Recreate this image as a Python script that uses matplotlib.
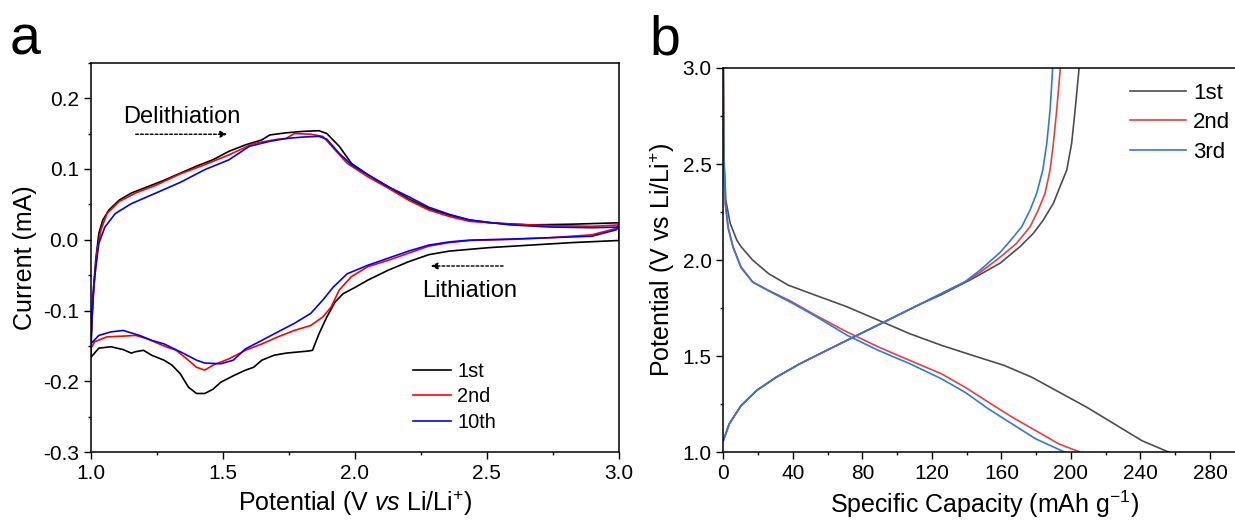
import numpy as np
import matplotlib
matplotlib.use("Agg")
import matplotlib.pyplot as plt
from matplotlib.ticker import MultipleLocator, FormatStrFormatter

plt.rcParams['font.family'] = ['Liberation Sans', 'DejaVu Sans']
plt.rcParams['mathtext.fontset'] = 'custom'
plt.rcParams['mathtext.rm'] = 'Liberation Sans'
plt.rcParams['mathtext.it'] = 'Liberation Sans:italic'
plt.rcParams['axes.unicode_minus'] = False

# ---- panel a: CV curves (potential V, current mA), anodic then cathodic sweep
cv_labels = ["1st", "2nd", "10th"]
cv_colors = ["#000000", "#ff0000", "#0000ff"]

v_1st = [1.000, 1.008, 1.019, 1.031, 1.046, 1.069, 1.108, 1.154, 1.216, 1.278, 1.339, 1.401,
         1.463, 1.524, 1.586, 1.648, 1.678, 1.740, 1.802, 1.864, 1.894, 1.941, 1.987, 2.049,
         2.126, 2.203, 2.280, 2.357, 2.434, 2.511, 2.665, 2.820, 3.000,
         3.000, 2.974, 2.820, 2.665, 2.511, 2.357, 2.280, 2.203, 2.126, 2.049, 2.002, 1.956,
         1.925, 1.894, 1.864, 1.840, 1.825, 1.740, 1.694, 1.648, 1.617, 1.586, 1.540, 1.493,
         1.463, 1.432, 1.401, 1.370, 1.339, 1.308, 1.278, 1.231, 1.200, 1.170, 1.154, 1.123,
         1.077, 1.031, 1.003]
i_1st = [-0.168, -0.085, -0.029, 0.009, 0.028, 0.042, 0.056, 0.066, 0.075, 0.084, 0.094, 0.104,
         0.113, 0.125, 0.134, 0.141, 0.148, 0.151, 0.153, 0.154, 0.150, 0.132, 0.108, 0.092,
         0.075, 0.058, 0.044, 0.035, 0.028, 0.024, 0.021, 0.022, 0.024,
         -0.001, -0.0014, -0.004, -0.0075, -0.011, -0.016, -0.021, -0.031, -0.043, -0.057, -0.067, -0.076,
         -0.088, -0.109, -0.133, -0.156, -0.157, -0.160, -0.163, -0.170, -0.180, -0.184, -0.192, -0.201,
         -0.211, -0.217, -0.217, -0.208, -0.189, -0.177, -0.170, -0.163, -0.156, -0.158, -0.160, -0.155,
         -0.151, -0.153, -0.165]

v_2nd = [1.000, 1.008, 1.023, 1.039, 1.062, 1.108, 1.170, 1.247, 1.339, 1.432, 1.524, 1.617,
         1.709, 1.740, 1.771, 1.833, 1.879, 1.925, 1.971, 2.049, 2.126, 2.203, 2.280, 2.357,
         2.434, 2.588, 2.742, 2.897, 3.000,
         2.989, 2.897, 2.742, 2.588, 2.434, 2.357, 2.280, 2.203, 2.126, 2.049, 1.987, 1.941,
         1.910, 1.879, 1.833, 1.771, 1.709, 1.648, 1.586, 1.524, 1.463, 1.432, 1.401, 1.370,
         1.324, 1.278, 1.216, 1.170, 1.123, 1.062, 1.015, 1.000]
i_2nd = [-0.151, -0.090, -0.019, 0.014, 0.037, 0.054, 0.066, 0.077, 0.093, 0.106, 0.120, 0.136,
         0.142, 0.143, 0.150, 0.149, 0.146, 0.127, 0.108, 0.089, 0.073, 0.056, 0.042, 0.033,
         0.026, 0.022, 0.020, 0.019, 0.021,
         0.016, 0.007, 0.003, 0.0005, -0.001, -0.004, -0.009, -0.019, -0.029, -0.038, -0.052, -0.071,
         -0.095, -0.109, -0.121, -0.128, -0.137, -0.147, -0.156, -0.168, -0.177, -0.184, -0.180, -0.170,
         -0.156, -0.150, -0.140, -0.135, -0.136, -0.137, -0.144, -0.154]

v_10th = [1.000, 1.012, 1.031, 1.054, 1.093, 1.154, 1.247, 1.339, 1.432, 1.524, 1.601, 1.678,
          1.740, 1.802, 1.864, 1.894, 1.941, 1.987, 2.049, 2.126, 2.203, 2.280, 2.357, 2.434,
          2.588, 2.742, 2.897, 3.000,
          2.989, 2.897, 2.742, 2.588, 2.434, 2.357, 2.280, 2.203, 2.126, 2.049, 1.971, 1.918,
          1.879, 1.833, 1.771, 1.709, 1.648, 1.586, 1.540, 1.493, 1.432, 1.401, 1.355, 1.278,
          1.231, 1.185, 1.123, 1.077, 1.031, 1.000]
i_10th = [-0.147, -0.062, -0.005, 0.018, 0.037, 0.051, 0.066, 0.081, 0.099, 0.113, 0.132, 0.139,
          0.143, 0.145, 0.146, 0.142, 0.122, 0.106, 0.092, 0.075, 0.061, 0.046, 0.036, 0.028,
          0.021, 0.018, 0.017, 0.018,
          0.014, 0.005, 0.003, 0.001, -0.0005, -0.003, -0.0075, -0.016, -0.026, -0.036, -0.048, -0.067,
          -0.085, -0.104, -0.118, -0.130, -0.142, -0.154, -0.170, -0.175, -0.174, -0.170, -0.161, -0.147,
          -0.142, -0.135, -0.128, -0.130, -0.135, -0.147]

# ---- panel b: discharge / charge profiles (capacity mAh/g, potential V)
gc_labels = ["1st", "2nd", "3rd"]
gc_colors = ["#4d4d4d", "#f03c3c", "#2a7ae2"]

dis_cap_1st = [0, 0.3, 1.4, 3.9, 7.7, 10.2, 16.9, 26.0, 37.3, 53.1, 71.2, 89.3, 107.3, 125.4,
               143.5, 161.6, 177.4, 193.2, 209.0, 224.9, 240.7, 256.5]
dis_v_1st = [3.0, 2.55, 2.313, 2.193, 2.105, 2.070, 2.000, 1.930, 1.870, 1.817, 1.757, 1.687,
             1.617, 1.557, 1.504, 1.452, 1.391, 1.313, 1.235, 1.148, 1.061, 1.0]
dis_cap_2nd = [0, 0.3, 1.2, 2.8, 5.6, 10.2, 16.9, 26.0, 39.5, 53.1, 71.2, 89.3, 107.3, 125.4,
               139.0, 152.5, 166.1, 179.7, 193.2, 205.6]
dis_v_2nd = [3.0, 2.52, 2.290, 2.170, 2.070, 1.965, 1.887, 1.843, 1.783, 1.713, 1.626, 1.548,
             1.478, 1.409, 1.339, 1.261, 1.183, 1.113, 1.043, 1.0]
dis_cap_3rd = [0, 0.3, 1.2, 2.8, 5.6, 10.2, 16.9, 26.0, 39.5, 53.1, 71.2, 89.3, 107.3, 125.4,
               139.0, 152.5, 166.1, 179.7, 196.6]
dis_v_3rd = [3.0, 2.52, 2.285, 2.165, 2.065, 1.960, 1.885, 1.840, 1.777, 1.708, 1.609, 1.530,
             1.461, 1.383, 1.313, 1.226, 1.148, 1.070, 1.0]

chg_cap_1st = [0, 3.4, 10.2, 19.2, 30.5, 44.1, 57.6, 71.2, 84.7, 98.3, 111.9, 125.4, 143.5,
               159.2, 170.7, 178.4, 184.1, 189.9, 193.7, 197.6, 200.4, 202.4, 204.7]
chg_v_1st = [1.061, 1.148, 1.243, 1.322, 1.391, 1.461, 1.522, 1.583, 1.643, 1.704, 1.765, 1.820,
             1.904, 1.984, 2.070, 2.140, 2.209, 2.296, 2.382, 2.469, 2.608, 2.781, 3.0]
chg_cap_2nd = [0, 3.4, 10.2, 19.2, 30.5, 44.1, 57.6, 71.2, 84.7, 98.3, 111.9, 125.4, 139.0,
               148.0, 159.2, 168.8, 176.5, 181.2, 185.1, 188.0, 189.9, 191.8, 193.9]
chg_v_2nd = [1.061, 1.148, 1.243, 1.322, 1.391, 1.461, 1.522, 1.583, 1.643, 1.704, 1.765, 1.826,
             1.887, 1.938, 2.015, 2.088, 2.174, 2.261, 2.348, 2.469, 2.608, 2.781, 3.0]
chg_cap_3rd = [0, 3.4, 10.2, 19.2, 30.5, 44.1, 57.6, 71.2, 84.7, 98.3, 111.9, 125.4, 139.0,
               148.0, 159.2, 165.0, 171.7, 176.5, 180.3, 183.8, 186.1, 188.0, 189.5]
chg_v_3rd = [1.061, 1.148, 1.243, 1.322, 1.391, 1.461, 1.522, 1.583, 1.643, 1.704, 1.765, 1.826,
             1.887, 1.950, 2.040, 2.100, 2.174, 2.261, 2.348, 2.469, 2.608, 2.781, 3.0]


def style_axis(ax):
    for sp in ax.spines.values():
        sp.set_linewidth(1.1)
    ax.tick_params(which='major', direction='out', length=5, width=1, labelsize=15,
                   top=False, right=False)
    ax.tick_params(which='minor', direction='out', length=2.5, width=1, top=False, right=False)


fig = plt.figure(figsize=(12.35, 5.23), dpi=100)

# panel a
ax1 = fig.add_axes([0.0734, 0.1352, 0.4278, 0.7449])
cv_v = [v_1st, v_2nd, v_10th]
cv_i = [i_1st, i_2nd, i_10th]
for v, i, c, lab in zip(cv_v, cv_i, cv_colors, cv_labels):
    ax1.plot(v, i, color=c, lw=1.2, label=lab)
ax1.set_xlim(1.0, 3.0)
ax1.set_ylim(-0.3, 0.25)
ax1.xaxis.set_major_locator(MultipleLocator(0.5))
ax1.xaxis.set_minor_locator(MultipleLocator(0.25))
ax1.yaxis.set_major_locator(MultipleLocator(0.1))
ax1.yaxis.set_minor_locator(MultipleLocator(0.05))
ax1.xaxis.set_major_formatter(FormatStrFormatter('%.1f'))
ax1.yaxis.set_major_formatter(FormatStrFormatter('%.1f'))
style_axis(ax1)
ax1.set_xlabel(r'Potential (V $\it{vs}$ Li/Li$^{+}$)', fontsize=18)
ax1.set_ylabel('Current (mA)', fontsize=18)

ax1.annotate('', xy=(1.527, 0.149), xytext=(1.16, 0.149),
             arrowprops=dict(arrowstyle='-|>', linestyle=(0, (2, 1.5)), color='black',
                             lw=1, mutation_scale=10))
ax1.text(1.346, 0.173, 'Delithiation', fontsize=17, ha='center', va='center')
ax1.annotate('', xy=(2.277, -0.037), xytext=(2.572, -0.037),
             arrowprops=dict(arrowstyle='-|>', linestyle=(0, (2, 1.5)), color='black',
                             lw=1, mutation_scale=10))
ax1.text(2.436, -0.073, 'Lithiation', fontsize=17, ha='center', va='center')

leg1 = ax1.legend(loc='upper left', bbox_to_anchor=(0.3345, 0.308), bbox_transform=fig.transFigure,
                  frameon=False, fontsize=14.4, handlelength=1.9, handletextpad=0.3,
                  labelspacing=0.32, borderpad=0, borderaxespad=0)

# panel b
ax2 = fig.add_axes([0.5857, 0.1352, 0.4222, 0.7348])
dis_cap = [dis_cap_1st, dis_cap_2nd, dis_cap_3rd]
dis_v = [dis_v_1st, dis_v_2nd, dis_v_3rd]
chg_cap = [chg_cap_1st, chg_cap_2nd, chg_cap_3rd]
chg_v = [chg_v_1st, chg_v_2nd, chg_v_3rd]
for k in range(3):
    ax2.plot(dis_cap[k], dis_v[k], color=gc_colors[k], lw=1.2, label=gc_labels[k])
    ax2.plot(chg_cap[k], chg_v[k], color=gc_colors[k], lw=1.2)
ax2.set_xlim(0, 300)
ax2.set_ylim(1.0, 3.0)
ax2.xaxis.set_major_locator(MultipleLocator(40))
ax2.xaxis.set_minor_locator(MultipleLocator(20))
ax2.yaxis.set_major_locator(MultipleLocator(0.5))
ax2.yaxis.set_minor_locator(MultipleLocator(0.25))
ax2.yaxis.set_major_formatter(FormatStrFormatter('%.1f'))
style_axis(ax2)
ax2.set_xlabel(r'Specific Capacity (mAh g$^{-1}$)', fontsize=18)
ax2.set_ylabel(r'Potential (V vs Li/Li$^{+}$)', fontsize=18)

leg2 = ax2.legend(loc='upper left', bbox_to_anchor=(0.915, 0.842), bbox_transform=fig.transFigure,
                  frameon=False, fontsize=16, handlelength=2.5, handletextpad=0.35,
                  labelspacing=0.38, borderpad=0, borderaxespad=0)

fig.text(0.008, 0.895, 'a', fontsize=40, ha='left', va='baseline')
fig.text(0.526, 0.895, 'b', fontsize=40, ha='left', va='baseline')

fig.savefig('out.png', dpi=100)
